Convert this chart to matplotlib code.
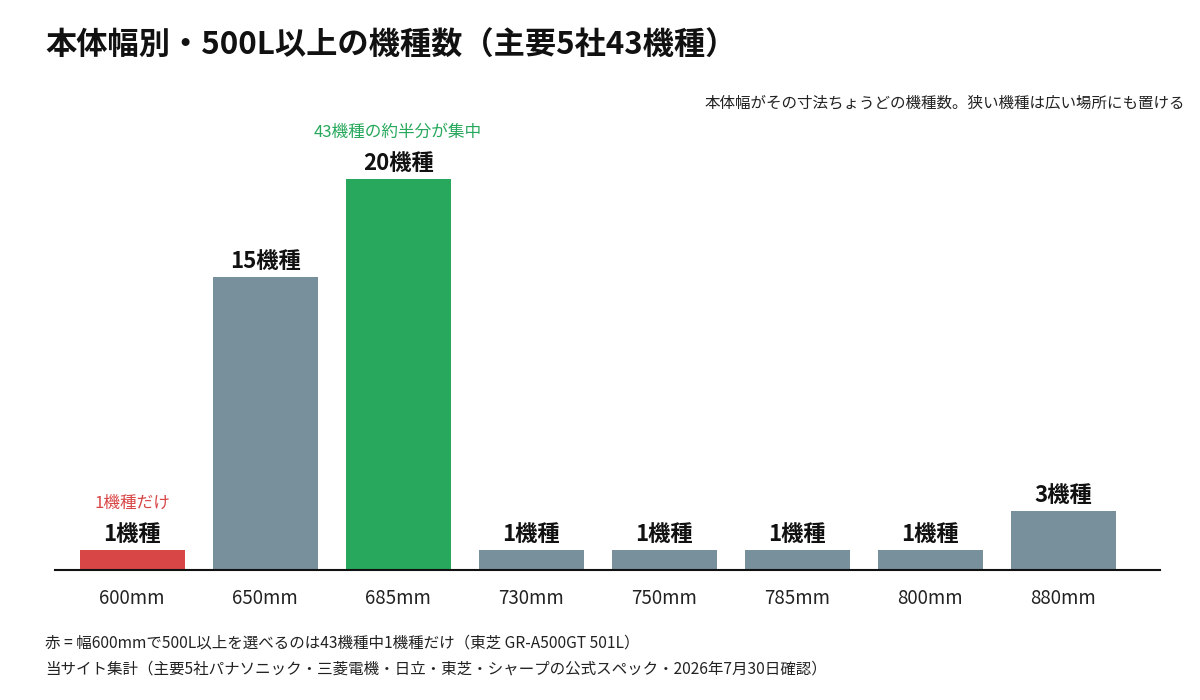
import matplotlib
matplotlib.use("Agg")
import matplotlib.pyplot as plt

plt.rcParams['font.family'] = ['Noto Sans CJK JP', 'DejaVu Sans']

widths = ['600mm', '650mm', '685mm', '730mm', '750mm', '785mm', '800mm', '880mm']
counts = [1, 15, 20, 1, 1, 1, 1, 3]
bar_colors = ['#d94646', '#78909c', '#27a85c', '#78909c', '#78909c', '#78909c', '#78909c', '#78909c']

title = '本体幅別・500L以上の機種数（主要5社43機種）'
subtitle = '本体幅がその寸法ちょうどの機種数。狭い機種は広い場所にも置ける'
note_red = '1機種だけ'
note_green = '43機種の約半分が集中'
footer1 = '赤 = 幅600mmで500L以上を選べるのは43機種中1機種だけ（東芝 GR-A500GT 501L）'
footer2 = '当サイト集計（主要5社パナソニック・三菱電機・日立・東芝・シャープの公式スペック・2026年7月30日確認）'

fig = plt.figure(figsize=(12, 7), dpi=100)
ax = fig.add_axes([0.0458, 0.1857, 0.921, 0.614])

x = list(range(len(widths)))
ax.bar(x, counts, width=0.79, color=bar_colors)
ax.set_xlim(-0.58, 7.73)
ax.set_ylim(0, 22)

for xi, c in zip(x, counts):
    ax.annotate(f'{c}機種', (xi, c), xytext=(0, 3), textcoords='offset points',
                ha='center', va='bottom', fontsize=16, fontweight='bold', color='#111111')

ax.annotate(note_red, (0, counts[0]), xytext=(0, 28), textcoords='offset points',
            ha='center', va='bottom', fontsize=12, color='#d94646')
ax.annotate(note_green, (2, counts[2]), xytext=(0, 28), textcoords='offset points',
            ha='center', va='bottom', fontsize=12, color='#27a85c')

for s in ['top', 'right', 'left']:
    ax.spines[s].set_visible(False)
ax.spines['bottom'].set_color('#111111')
ax.spines['bottom'].set_linewidth(1.5)
ax.set_yticks([])
ax.set_xticks(x)
ax.set_xticklabels(widths, fontsize=13.5, color='#222222')
ax.tick_params(axis='x', length=0, pad=13)

fig.text(45 / 1200, 1 - 46 / 700, title, fontsize=22.5, fontweight='bold', va='center', ha='left', color='#111111')
fig.text(1185 / 1200, 1 - 103 / 700, subtitle, fontsize=11.2, va='center', ha='right', color='#222222')
fig.text(45 / 1200, 1 - 643 / 700, footer1, fontsize=11.2, va='center', ha='left', color='#222222')
fig.text(45 / 1200, 1 - 669 / 700, footer2, fontsize=11.2, va='center', ha='left', color='#222222')

fig.savefig('out.png', dpi=100)
